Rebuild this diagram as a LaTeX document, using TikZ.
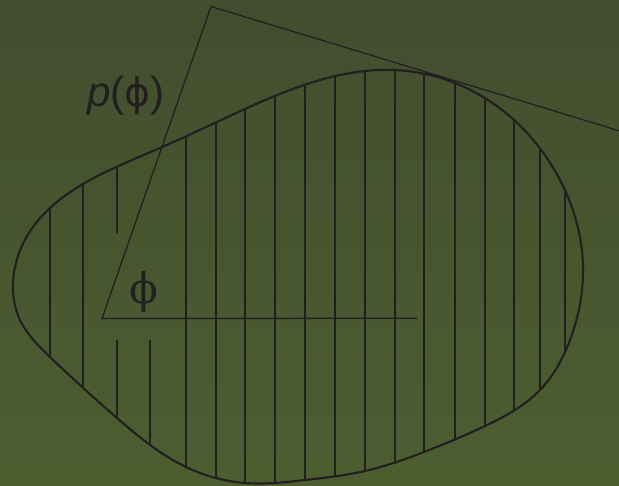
\documentclass[tikz,border=0pt]{standalone}
\usepackage{fontspec}
\usetikzlibrary{hobby}
\newfontfamily\labelfont{Liberation Sans}
\newfontfamily\greekfont{DejaVu Sans}
\newfontfamily\anglefont{DejaVu Serif}
\definecolor{bgtop}{RGB}{67,77,47}
\definecolor{bgbottom}{RGB}{76,94,48}
\definecolor{ink}{RGB}{35,31,32}
\tikzset{
	hatch/.style={ink, line width=1pt},
	rim/.style={ink, line width=1.5pt},
	ray/.style={ink, line width=0.9pt},
}
\begin{document}
\begin{tikzpicture}[x=0.025cm, y=-0.025cm]
	\useasboundingbox (0,0) rectangle (619,486);
	\shade[top color=bgtop, bottom color=bgbottom] (0,0) rectangle (619,486);
	% outline of the region
	\path[save path=\blobpath] plot[closed hobby] coordinates {
		(13,283) (33,227) (83,184) (160,148) (245,109) (320,80) (395,70)
		(455,83) (514,120) (560,180) (583,265) (570,340) (540,390) (485,426)
		(424,452) (365,471) (305,480) (245,483) (186,467) (117,418) (50,357)
		(20,320)};
	\begin{scope}
		\clip[use path=\blobpath];
		\foreach \hx in {50,83,186,216,245,275,305,335,365,395,424,455,485,514,540,565}
			\draw[hatch] (\hx,0) -- (\hx,486);
		\draw[hatch] (117,0) -- (117,233);
		\draw[hatch] (117,340) -- (117,486);
		\draw[hatch] (150,340) -- (150,486);
	\end{scope}
	\draw[rim, use path=\blobpath];
	% angle and support line
	\coordinate (vertex) at (102,318.5);
	\coordinate (apex) at (211,6.5);
	\coordinate (far) at (619,130.7);
	\coordinate (stop) at (417,318.3);
	\draw[ray] (far) -- (apex) -- (vertex) -- (stop);
	\node[anchor=base, inner sep=0pt, text=ink, font=\labelfont\fontsize{30}{36}\selectfont] (density) at (126,107) {\textit{p}({\greekfont\fontsize{28}{34}\selectfont ϕ})};
	\node[anchor=base, inner sep=0pt, text=ink, font=\anglefont\fontsize{30}{36}\selectfont] (angle) at (143.5,303) {ϕ};
\end{tikzpicture}
\end{document}
